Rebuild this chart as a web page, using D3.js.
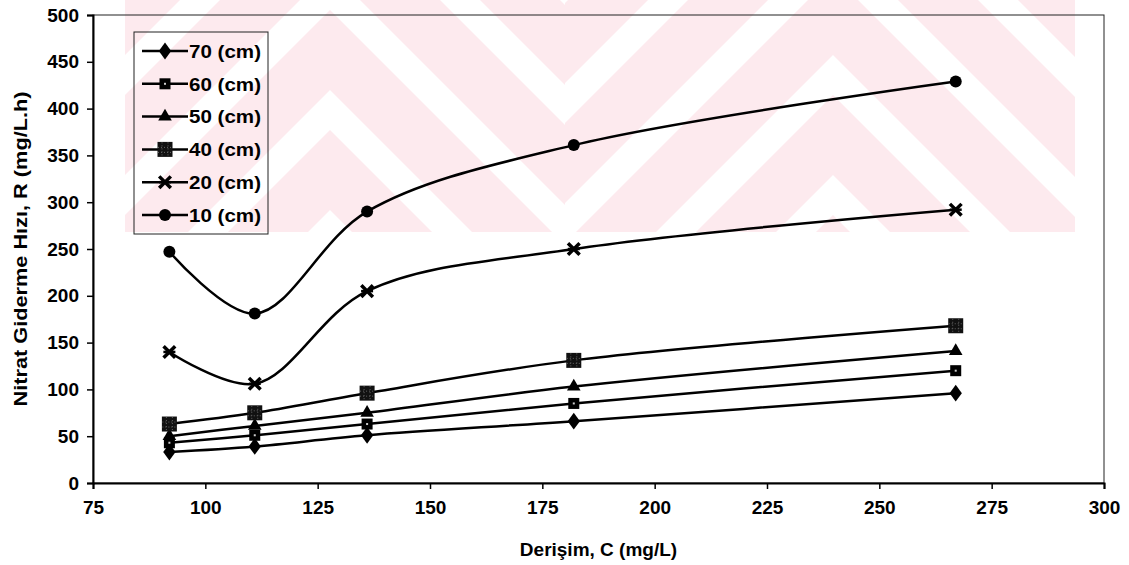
<!DOCTYPE html>
<html>
<head>
<meta charset="utf-8">
<script src="https://cdn.jsdelivr.net/npm/d3@7"></script>
<style>
  body { margin: 0; background: #fff; }
  svg { display: block; font-family: "Liberation Sans", Arial, sans-serif; }
</style>
</head>
<body>
<div id="chart"></div>
<script>
// concentration values (x) shared by every series
const concentration = [92, 111, 136, 182, 267];

const r70 = [33, 39, 51, 66, 96];
const r60 = [43, 51, 63, 85, 120];
const r50 = [50, 61, 75, 103, 141];
const r40 = [63, 75, 96, 131, 168];
const r20 = [140, 106, 205, 250, 292];
const r10 = [247, 181, 290, 361, 429];

const seriesNames = ['70 (cm)', '60 (cm)', '50 (cm)', '40 (cm)', '20 (cm)', '10 (cm)'];
const markerTypes = ['diamond', 'square', 'triangle', 'bigsquare', 'star', 'circle'];

const xTicks = [75, 100, 125, 150, 175, 200, 225, 250, 275, 300];
const yTicks = [0, 50, 100, 150, 200, 250, 300, 350, 400, 450, 500];

const width = 1129, height = 565;
const margin = {top: 15, right: 25, bottom: 82, left: 93};

const series = [r70, r60, r50, r40, r20, r10].map((vals, i) => ({
  name: seriesNames[i],
  marker: markerTypes[i],
  points: vals.map((v, j) => ({c: concentration[j], r: v}))
}));

const svg = d3.select('#chart').append('svg')
  .attr('width', width)
  .attr('height', height);

const x = d3.scaleLinear().domain([75, 300]).range([margin.left, width - margin.right]);
const y = d3.scaleLinear().domain([0, 500]).range([height - margin.bottom, margin.top]);

// faint watermark behind the chart: two groups of nested chevrons
const chevron = (ax, a0, a1) => {
  const L = 600;
  return [[ax - L, a0 + L], [ax, a0], [ax + L, a0 + L], [ax + L, a1 + L], [ax, a1], [ax - L, a1 + L]];
};
const wmGroups = [
  {id: 'wmL', x0: 125, x1: 565, ax: 330, bands: [[-230, -150], [-110, -30], [10, 90], [130, 210]]},
  {id: 'wmR', x0: 565, x1: 1075, ax: 833, bands: [[-265, -185], [-145, -65], [-25, 55], [95, 175], [215, 295]]}
];
wmGroups.forEach(gr => {
  svg.append('clipPath').attr('id', gr.id)
    .append('rect').attr('x', gr.x0).attr('y', 0).attr('width', gr.x1 - gr.x0).attr('height', 232);
  const g = svg.append('g').attr('clip-path', `url(#${gr.id})`);
  gr.bands.forEach(b => {
    g.append('polygon')
      .attr('points', chevron(gr.ax, b[0], b[1]).map(p => p.join(',')).join(' '))
      .attr('fill', '#fdeaee');
  });
});

// plot frame
svg.append('rect')
  .attr('x', x(75)).attr('y', y(500))
  .attr('width', x(300) - x(75)).attr('height', y(0) - y(500))
  .attr('fill', 'none').attr('stroke', '#222').attr('stroke-width', 1);

const xAxis = svg.append('g')
  .attr('transform', `translate(0,${y(0)})`)
  .call(d3.axisBottom(x).tickValues(xTicks).tickSize(6).tickPadding(12));
const yAxis = svg.append('g')
  .attr('transform', `translate(${x(75)},0)`)
  .call(d3.axisLeft(y).tickValues(yTicks).tickSize(6).tickPadding(8));

[xAxis, yAxis].forEach(a => {
  a.select('.domain').attr('stroke', '#000').attr('stroke-width', 2);
  a.selectAll('.tick line').attr('stroke', '#000').attr('stroke-width', 1.5);
  a.selectAll('.tick text')
    .attr('fill', '#000')
    .style('font-size', '19px')
    .style('font-weight', 'bold');
});

// axis titles
svg.append('text')
  .attr('x', (x(75) + x(300)) / 2)
  .attr('y', 556)
  .attr('text-anchor', 'middle')
  .style('font-size', '19px')
  .style('font-weight', 'bold')
  .text('Derişim, C (mg/L)');

svg.append('text')
  .attr('transform', `translate(27,${(y(0) + y(500)) / 2}) rotate(-90)`)
  .attr('text-anchor', 'middle')
  .attr('textLength', 315)
  .attr('lengthAdjust', 'spacingAndGlyphs')
  .style('font-size', '18px')
  .style('font-weight', 'bold')
  .text('Nitrat Giderme Hızı, R (mg/L.h)');

// markers
const drawMarker = (g, type, cx, cy) => {
  if (type === 'circle') {
    g.append('circle').attr('cx', cx).attr('cy', cy).attr('r', 6).attr('fill', '#000');
  } else if (type === 'diamond') {
    g.append('path').attr('d', d3.symbol(d3.symbolDiamond, 100)())
      .attr('transform', `translate(${cx},${cy}) scale(1.15,0.9)`).attr('fill', '#000');
  } else if (type === 'triangle') {
    g.append('path').attr('d', d3.symbol(d3.symbolTriangle, 80)())
      .attr('transform', `translate(${cx},${cy})`).attr('fill', '#000');
  } else if (type === 'square') {
    g.append('rect').attr('x', cx - 5.5).attr('y', cy - 5.5).attr('width', 11).attr('height', 11).attr('fill', '#000');
    g.append('rect').attr('x', cx - 1).attr('y', cy - 1).attr('width', 2).attr('height', 2).attr('fill', '#ccc');
  } else if (type === 'bigsquare') {
    g.append('rect').attr('x', cx - 7.5).attr('y', cy - 7.5).attr('width', 15).attr('height', 15).attr('fill', '#111');
    g.append('path')
      .attr('d', `M${cx - 3},${cy - 7}V${cy + 7}M${cx + 3},${cy - 7}V${cy + 7}M${cx - 7},${cy - 2}H${cx + 7}M${cx - 7},${cy + 3}H${cx + 7}`)
      .attr('stroke', '#666').attr('stroke-width', 1).attr('stroke-dasharray', '1,2');
  } else if (type === 'star') {
    g.append('path').attr('d', d3.symbol(d3.symbolTimes, 90)())
      .attr('transform', `translate(${cx},${cy})`)
      .attr('fill', 'none').attr('stroke', '#000').attr('stroke-width', 3.5);
    g.append('path').attr('d', `M${cx - 6},${cy}H${cx + 6}`)
      .attr('stroke', '#000').attr('stroke-width', 2.5);
  }
};

const line = d3.line()
  .x(d => x(d.c))
  .y(d => y(d.r))
  .curve(d3.curveCatmullRom.alpha(0.5));

const plot = svg.append('g');
series.forEach(s => {
  plot.append('path')
    .datum(s.points)
    .attr('d', line)
    .attr('fill', 'none')
    .attr('stroke', '#000')
    .attr('stroke-width', 2.5);
  const mg = plot.append('g');
  s.points.forEach(p => drawMarker(mg, s.marker, x(p.c), y(p.r)));
});

// legend
const legend = svg.append('g');
legend.append('rect')
  .attr('x', 134).attr('y', 32).attr('width', 134).attr('height', 202)
  .attr('fill', 'none').attr('stroke', '#222').attr('stroke-width', 1);
series.forEach((s, i) => {
  const ly = 51 + i * 32.8;
  legend.append('line')
    .attr('x1', 142).attr('x2', 188).attr('y1', ly).attr('y2', ly)
    .attr('stroke', '#000').attr('stroke-width', 2.5);
  drawMarker(legend, s.marker, 165, ly);
  legend.append('text')
    .attr('x', 189).attr('y', ly)
    .attr('dy', '0.36em')
    .attr('textLength', 72)
    .attr('lengthAdjust', 'spacingAndGlyphs')
    .style('font-size', '19px')
    .style('font-weight', 'bold')
    .text(s.name);
});
</script>
</body>
</html>
